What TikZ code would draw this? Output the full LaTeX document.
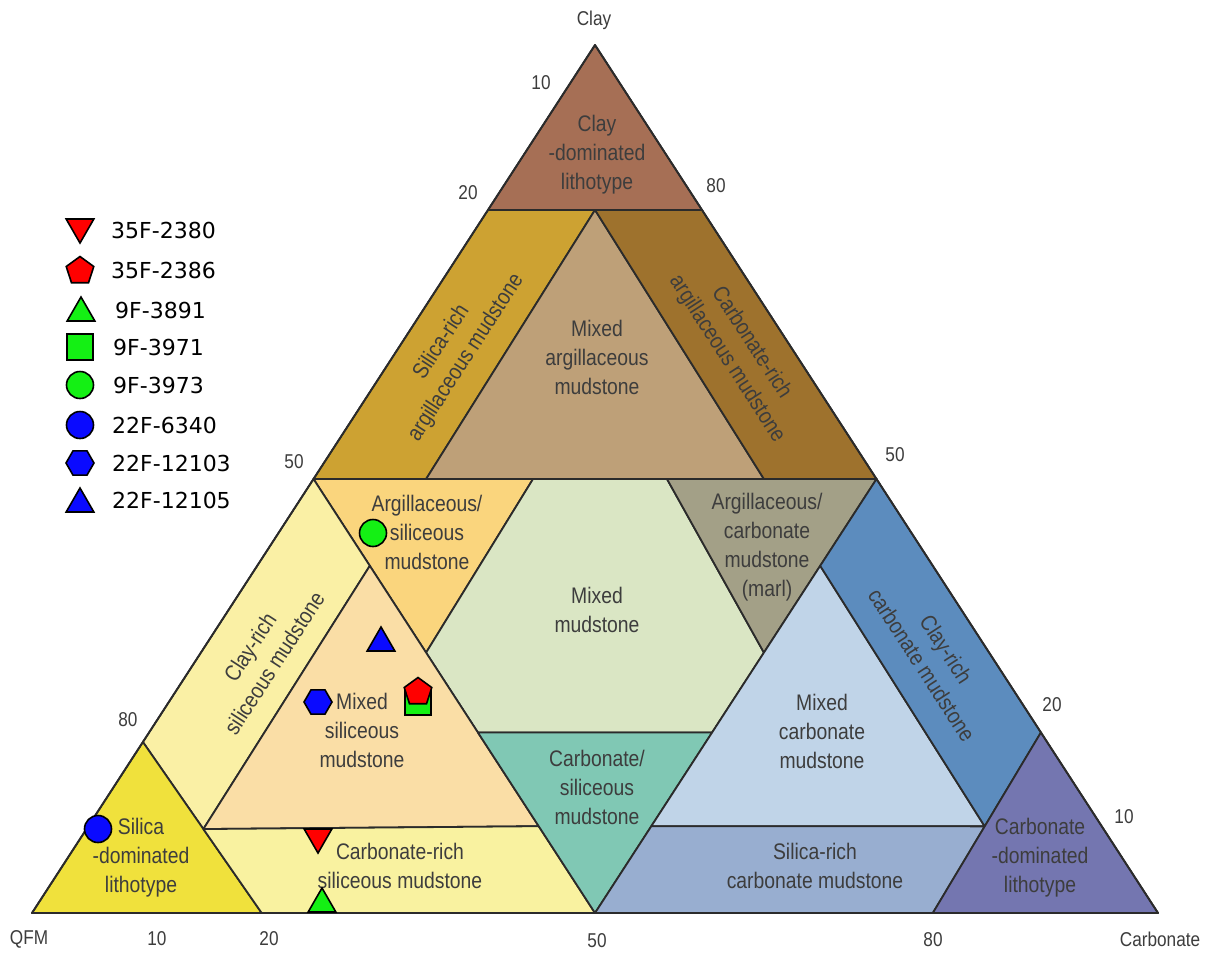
\documentclass[tikz,border=0pt]{standalone}
\usepackage{fontspec}
\newfontfamily\labfont{Liberation Sans}[FakeStretch=0.86]
\newfontfamily\legfont{DejaVu Sans}
\usetikzlibrary{shapes.geometric,calc}
\definecolor{linec}{HTML}{2B2B2B}
\definecolor{textc}{HTML}{3D3D3D}
\definecolor{clayDom}{HTML}{A66F55}
\definecolor{silArg}{HTML}{CDA232}
\definecolor{carbArg}{HTML}{9E722D}
\definecolor{mixArg}{HTML}{BEA078}
\definecolor{argSil}{HTML}{FAD57D}
\definecolor{mixMud}{HTML}{DAE6C4}
\definecolor{marl}{HTML}{A3A087}
\definecolor{clayRichSil}{HTML}{FAF0A5}
\definecolor{mixSil}{HTML}{FADEA6}
\definecolor{silDom}{HTML}{F0E13C}
\definecolor{carbRichSil}{HTML}{F9F2A0}
\definecolor{carbSil}{HTML}{80C8B4}
\definecolor{mixCarb}{HTML}{C0D4E8}
\definecolor{clayRichCarb}{HTML}{5C8CBE}
\definecolor{silRichCarb}{HTML}{98AED0}
\definecolor{carbDom}{HTML}{7476B0}
\definecolor{mkred}{HTML}{FF0000}
\definecolor{mkgreen}{HTML}{14F014}
\definecolor{mkblue}{HTML}{0A0AFF}
\tikzset{
  region/.style={draw=linec, line width=1.8pt, line join=round},
  lab/.style={font=\labfont\fontsize{22.5}{29}\selectfont, text=textc, align=center, inner sep=0pt},
  axlab/.style={font=\labfont\fontsize{20}{24}\selectfont, text=textc, inner sep=0pt},
  leg/.style={font=\legfont\fontsize{22}{26}\selectfont, text=black, anchor=west, inner sep=0pt},
  mk/.style={draw=black, line width=1.6pt, inner sep=0pt},
  mkcirc/.style={mk, circle, minimum size=27pt},
  mksq/.style={mk, rectangle, minimum size=26pt},
  mktriup/.style={mk, regular polygon, regular polygon sides=3, minimum size=32pt},
  mktridn/.style={mktriup, shape border rotate=180},
  mkpent/.style={mk, regular polygon, regular polygon sides=5, minimum size=29pt},
  mkhex/.style={mk, regular polygon, regular polygon sides=6, minimum size=28pt},
}
\begin{document}
\begin{tikzpicture}[x=1pt,y=-1pt]
\useasboundingbox (0,0) rectangle (1214,953);
\fill[white] (0,0) rectangle (1214,953);
% vertices
\coordinate (Q) at (32,913);
\coordinate (C) at (1158,913);
\coordinate (L) at (595,45);
\coordinate (a1) at (barycentric cs:Q=0.19,L=0.81);
\coordinate (a2) at (barycentric cs:C=0.19,L=0.81);
\coordinate (m0) at (barycentric cs:Q=0.095,C=0.095,L=0.81);
\coordinate (b1) at (barycentric cs:Q=0.5,L=0.5);
\coordinate (b2) at (barycentric cs:Q=0.4,C=0.1,L=0.5);
\coordinate (b3) at (533,479);
\coordinate (b4) at (667,479);
\coordinate (b5) at (barycentric cs:Q=0.1,C=0.4,L=0.5);
\coordinate (b6) at (barycentric cs:C=0.5,L=0.5);
\coordinate (c1) at (barycentric cs:Q=0.5,C=0.1,L=0.4);
\coordinate (c2) at (barycentric cs:Q=0.5,C=0.2,L=0.3);
\coordinate (c3) at (barycentric cs:Q=0.2,C=0.5,L=0.3);
\coordinate (c4) at (barycentric cs:Q=0.1,C=0.5,L=0.4);
\coordinate (d1) at (barycentric cs:Q=0.803,L=0.197);
\coordinate (d2) at (barycentric cs:Q=0.5,C=0.292,L=0.208);
\coordinate (d3) at (barycentric cs:Q=0.292,C=0.5,L=0.208);
\coordinate (d4) at (barycentric cs:C=0.792,L=0.208);
\coordinate (f1) at (barycentric cs:Q=0.796,C=0.204);
\coordinate (f2) at (barycentric cs:Q=0.5,C=0.5);
\coordinate (f3) at (barycentric cs:Q=0.2,C=0.8);
\coordinate (e1) at ($(f1)!0.491!(d1)$);
\coordinate (e2) at (barycentric cs:Q=0.5,C=0.4,L=0.1);
\coordinate (e3) at (barycentric cs:Q=0.4,C=0.5,L=0.1);
\coordinate (e4) at ($(f3)!0.48!(d4)$);
% regions
\filldraw[region, fill=clayDom] (L) -- (a1) -- (a2) -- cycle;
\filldraw[region, fill=silArg] (a1) -- (m0) -- (b2) -- (b1) -- cycle;
\filldraw[region, fill=mixArg] (m0) -- (b5) -- (b2) -- cycle;
\filldraw[region, fill=carbArg] (m0) -- (a2) -- (b6) -- (b5) -- cycle;
\filldraw[region, fill=argSil] (b1) -- (b3) -- (c2) -- cycle;
\filldraw[region, fill=mixMud] (b3) -- (b4) -- (c3) -- (d3) -- (d2) -- (c2) -- cycle;
\filldraw[region, fill=marl] (b4) -- (b6) -- (c3) -- cycle;
\filldraw[region, fill=clayRichSil] (b1) -- (c1) -- (e1) -- (d1) -- cycle;
\filldraw[region, fill=mixSil] (c1) -- (c2) -- (d2) -- (e2) -- (e1) -- cycle;
\filldraw[region, fill=silDom] (Q) -- (f1) -- (d1) -- cycle;
\filldraw[region, fill=carbRichSil] (e1) -- (e2) -- (f2) -- (f1) -- cycle;
\filldraw[region, fill=carbSil] (d2) -- (d3) -- (f2) -- cycle;
\filldraw[region, fill=mixCarb] (c4) -- (e4) -- (e3) -- (d3) -- (c3) -- cycle;
\filldraw[region, fill=clayRichCarb] (b6) -- (d4) -- (e4) -- (c4) -- cycle;
\filldraw[region, fill=silRichCarb] (e3) -- (e4) -- (f3) -- (f2) -- cycle;
\filldraw[region, fill=carbDom] (f3) -- (C) -- (d4) -- cycle;
\draw[region] (Q) -- (C) -- (L) -- cycle;
% region labels
\node[lab] (tClayDom) at (597,155) {Clay\\-dominated\\lithotype};
\node[lab, rotate=57] (tSilArg) at (454,350) {Silica-rich\\argillaceous mudstone};
\node[lab] (tMixArg) at (597,357) {Mixed\\argillaceous\\mudstone};
\node[lab, rotate=-57] (tCarbArg) at (739,351) {Carbonate-rich\\argillaceous mudstone};
\node[lab] (tArgSil) at (427,532) {Argillaceous/\\siliceous\\mudstone};
\node[lab] (tMixMud) at (597,610) {Mixed\\mudstone};
\node[lab] (tMarl) at (767,547) {Argillaceous/\\carbonate\\mudstone\\(marl)};
\node[lab, rotate=57] (tClayRichSil) at (262,655) {Clay-rich\\siliceous mudstone};
\node[lab] (tMixSil) at (362,730) {Mixed\\siliceous\\mudstone};
\node[lab] (tSilDom) at (141,858) {Silica\\-dominated\\lithotype};
\node[lab] (tCarbRichSil) at (400,866) {Carbonate-rich\\siliceous mudstone};
\node[lab] (tCarbSil) at (597,787) {Carbonate/\\siliceous\\mudstone};
\node[lab] (tMixCarb) at (822,731) {Mixed\\carbonate\\mudstone};
\node[lab, rotate=-57] (tClayRichCarb) at (934,657) {Clay-rich\\carbonate mudstone};
\node[lab] (tSilRichCarb) at (815,866) {Silica-rich\\carbonate mudstone};
\node[lab] (tCarbDom) at (1040,858) {Carbonate\\-dominated\\lithotype};
% axis labels
\node[axlab] (axClay) at (594,20) {Clay};
\node[axlab] (n10a) at (541,83) {10};
\node[axlab] (n20a) at (468,193) {20};
\node[axlab] (n80a) at (716,186) {80};
\node[axlab] (n50a) at (294,462) {50};
\node[axlab] (n50b) at (895,455) {50};
\node[axlab] (n80b) at (128,720) {80};
\node[axlab] (n20b) at (1052,705) {20};
\node[axlab] (n10b) at (1124,817) {10};
\node[axlab] (axQFM) at (29,939) {QFM};
\node[axlab] (n10c) at (157,939) {10};
\node[axlab] (n20c) at (269,939) {20};
\node[axlab] (n50c) at (597,941) {50};
\node[axlab] (n80c) at (933,940) {80};
\node[axlab] (axCarb) at (1160,939) {Carbonate};
% data points
\node[mkcirc, fill=mkgreen] (p9F3973) at (373,533) {};
\node[mktriup, fill=mkblue] (p22F12105) at (381,643) {};
\node[mkhex, fill=mkblue] (p22F12103) at (318,702) {};
\node[mksq, fill=mkgreen] (p9F3971) at (418,702) {};
\node[mkpent, fill=mkred] (p35F2386) at (418,692) {};
\node[mkcirc, fill=mkblue] (p22F6340) at (98,829) {};
\node[mktridn, fill=mkred] (p35F2380) at (318,837) {};
\node[mktriup, fill=mkgreen] (p9F3891) at (322,904) {};
% legend
\node[mktridn, fill=mkred] (lg1) at (80,227) {};
\node[mkpent, fill=mkred] (lg2) at (80,271) {};
\node[mktriup, fill=mkgreen] (lg3) at (81,313) {};
\node[mksq, fill=mkgreen] (lg4) at (80,347) {};
\node[mkcirc, fill=mkgreen] (lg5) at (80,385) {};
\node[mkcirc, fill=mkblue] (lg6) at (80,425) {};
\node[mkhex, fill=mkblue] (lg7) at (80,463) {};
\node[mktriup, fill=mkblue] (lg8) at (80,504) {};
\node[leg] (lt1) at (111,230) {35F-2380};
\node[leg] (lt2) at (111,270) {35F-2386};
\node[leg] (lt3) at (115,310) {9F-3891};
\node[leg] (lt4) at (113,347) {9F-3971};
\node[leg] (lt5) at (113,385) {9F-3973};
\node[leg] (lt6) at (112,425) {22F-6340};
\node[leg] (lt7) at (112,463) {22F-12103};
\node[leg] (lt8) at (112,500) {22F-12105};
\end{tikzpicture}
\end{document}
